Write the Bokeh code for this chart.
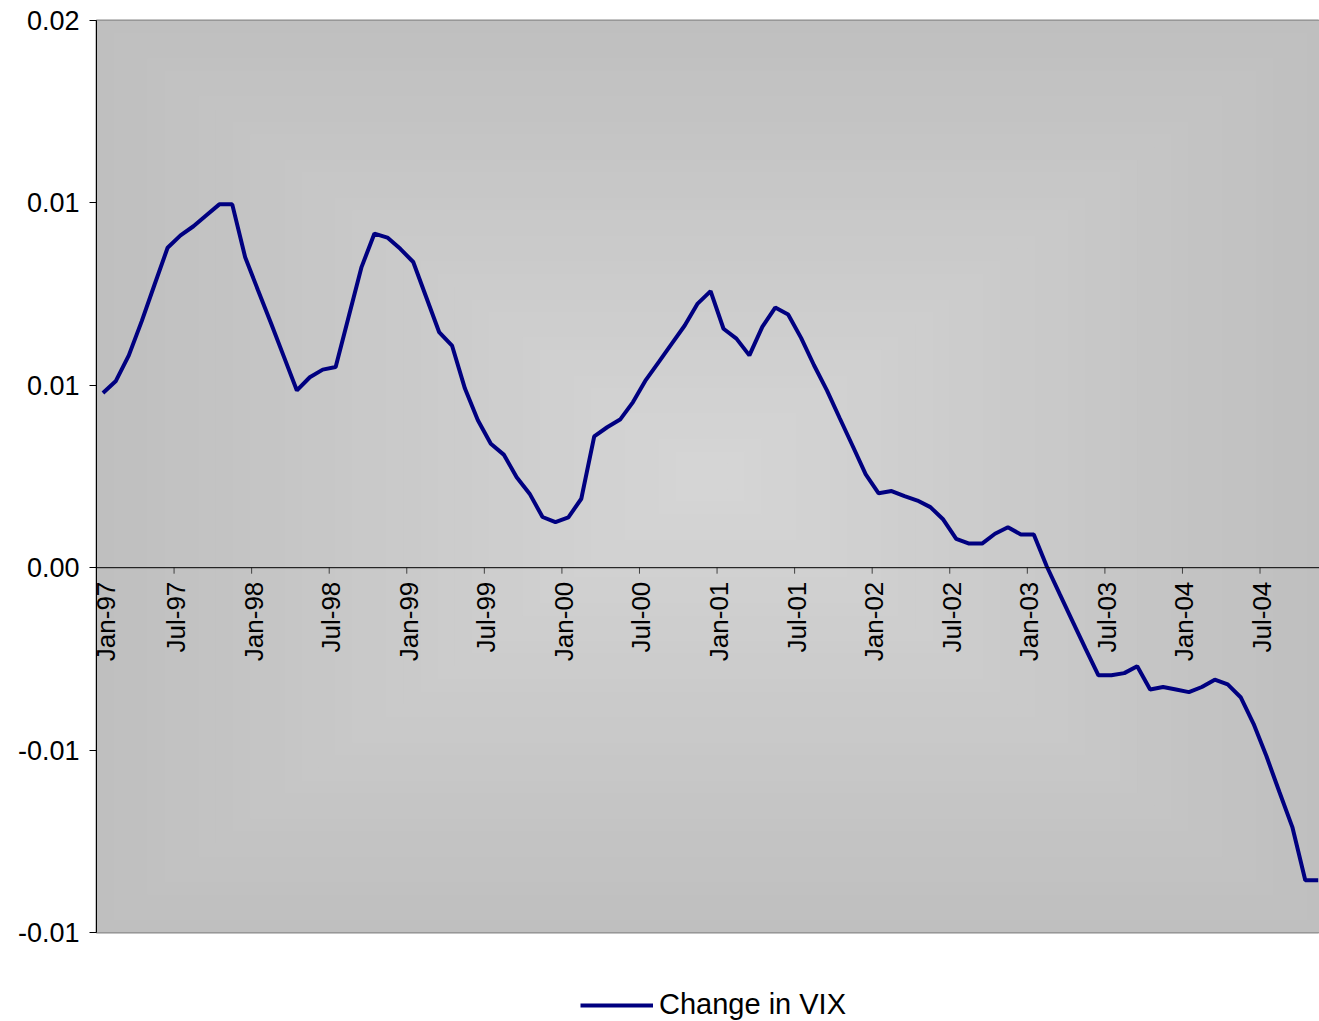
import numpy as np
import pandas as pd
from bokeh.plotting import figure
from bokeh.layouts import column
from bokeh.models import Range1d, FixedTicker, Span, Legend, LegendItem
from bokeh.core.properties import value
from bokeh.embed import file_html
from bokeh.resources import INLINE

# Monthly change in VIX, Jan-1997 .. Nov-2004
months = list(pd.date_range("1997-01-01", periods=95, freq="MS").strftime("%b-%y"))

vix_change = [
    0.00479, 0.00512, 0.00582, 0.00676, 0.00777, 0.00877, 0.00911, 0.00936, 0.00966, 0.00996,
    0.00996, 0.00851, 0.00760, 0.00670, 0.00578, 0.00486, 0.00522, 0.00543, 0.00550, 0.00687,
    0.00824, 0.00916, 0.00905, 0.00874, 0.00838, 0.00742, 0.00646, 0.00609, 0.00491, 0.00404,
    0.00340, 0.00310, 0.00248, 0.00203, 0.00139, 0.00125, 0.00138, 0.00189, 0.00360, 0.00385,
    0.00406, 0.00454, 0.00515, 0.00564, 0.00614, 0.00664, 0.00724, 0.00758, 0.00655, 0.00628,
    0.00582, 0.00660, 0.00713, 0.00694, 0.00630, 0.00555, 0.00486, 0.00409, 0.00333, 0.00256,
    0.00204, 0.00210, 0.00196, 0.00184, 0.00166, 0.00132, 0.00079, 0.00066, 0.00066, 0.00093,
    0.00111, 0.00091, 0.00091, 0.00004, -0.00072, -0.00147, -0.00222, -0.00295, -0.00295, -0.00289,
    -0.00270, -0.00334, -0.00327, -0.00334, -0.00341, -0.00327, -0.00307, -0.00320, -0.00355, -0.00428,
    -0.00517, -0.00615, -0.00711, -0.00857, -0.00857,
]

tick_labels = ["Jan-97", "Jul-97", "Jan-98", "Jul-98", "Jan-99", "Jul-99", "Jan-00", "Jul-00",
               "Jan-01", "Jul-01", "Jan-02", "Jul-02", "Jan-03", "Jul-03", "Jan-04", "Jul-04"]

y_ticks = [-0.01, -0.005, 0.0, 0.005, 0.01, 0.015]
y_tick_labels = ["-0.01", "-0.01", "0.00", "0.01", "0.01", "0.02"]

series_name = "Change in VIX"
series_color = "#000080"

# Layout
W = 1319
H_MAIN, H_KEY = 950, 71
LEFT, TOP, BOTTOM = 96, 20, 18
FRAME_H = H_MAIN - TOP - BOTTOM
Y0, Y1 = -0.01, 0.015
X0, X1 = 0.0, 94.6
FONT = "Liberation Sans"

p = figure(width=W, height=H_MAIN, output_backend="svg", toolbar_location=None,
           x_range=Range1d(X0, X1), y_range=Range1d(Y0, Y1),
           min_border_left=LEFT, min_border_top=TOP, min_border_bottom=BOTTOM,
           min_border_right=0, x_axis_location=None)
p.grid.visible = False
p.background_fill_color = "#bfbfbf"
p.border_fill_color = "white"
p.outline_line_color = "#8a8a8a"
p.outline_line_width = 2

# Rectangular "from centre" gradient behind the series
n_steps = 36
cx, cy = 47.5, (Y0 + Y1) / 2
half_w, half_h = 47.5, (Y1 - Y0) / 2
edge = np.array([191, 191, 191])
centre = np.array([214, 214, 214])
for k in range(n_steps):
    t = k / n_steps
    c = (edge + (centre - edge) * t).round().astype(int)
    s = 1 - t
    p.quad(left=cx - half_w * s, right=cx + half_w * s,
           bottom=cy - half_h * s, top=cy + half_h * s,
           fill_color="#%02x%02x%02x" % tuple(c), line_color=None)

# Category axis crossing at zero
p.add_layout(Span(location=0, dimension="width", line_color="black", line_width=1))
tick_x = [months.index(lbl) for lbl in tick_labels]
tick_len = (Y1 - Y0) / FRAME_H * 6
p.segment(x0=tick_x, y0=[0] * len(tick_x), x1=tick_x, y1=[-tick_len] * len(tick_x),
          line_color="#404040", line_width=1)
# the first label sits against the value axis, nudge it inside the plot area
label_dx = [9] + [2] * (len(tick_labels) - 1)
p.text(x=tick_x, y=[0] * len(tick_x), text=tick_labels, angle=np.pi / 2,
       text_align="right", text_baseline="middle", x_offset=label_dx, y_offset=14,
       text_font=value(FONT), text_font_size="26px", text_color="black")

# Series
x = np.arange(len(vix_change)) + 0.5
p.line(x, vix_change, line_color=series_color, line_width=4)

# Value axis
ax = p.yaxis[0]
ax.ticker = FixedTicker(ticks=y_ticks)
ax.major_label_overrides = {t: s for t, s in zip(y_ticks, y_tick_labels)}
ax.axis_line_color = "black"
ax.major_tick_line_color = "black"
ax.major_tick_out = 7
ax.major_tick_in = 0
ax.minor_tick_line_color = None
ax.major_label_standoff = 10
ax.major_label_text_font = FONT
ax.major_label_text_font_size = "27px"
ax.major_label_text_color = "black"

# Key strip underneath the chart (its frame is aligned with the chart's frame)
key = figure(width=W, height=H_KEY, output_backend="svg", toolbar_location=None,
             x_range=Range1d(0, 1), y_range=Range1d(0, 1),
             x_axis_location=None, y_axis_location=None,
             min_border=0, outline_line_color=None)
key.grid.visible = False
# sample stroke for the key, kept outside the strip's visible range
key_r = key.line(x=[-2, -1], y=[-2, -2], line_color=series_color, line_width=4)
legend = Legend(items=[LegendItem(label=series_name, renderers=[key_r])],
                location=(484, 0), orientation="horizontal",
                glyph_width=73, glyph_height=24, label_standoff=6,
                label_text_font=FONT, label_text_font_size="29px",
                label_text_color="black",
                padding=0, margin=0, spacing=0,
                border_line_color=None, background_fill_alpha=0)
key.add_layout(legend)

layout = column(p, key, spacing=0)
open("out.html", "w").write(file_html(layout, INLINE))
